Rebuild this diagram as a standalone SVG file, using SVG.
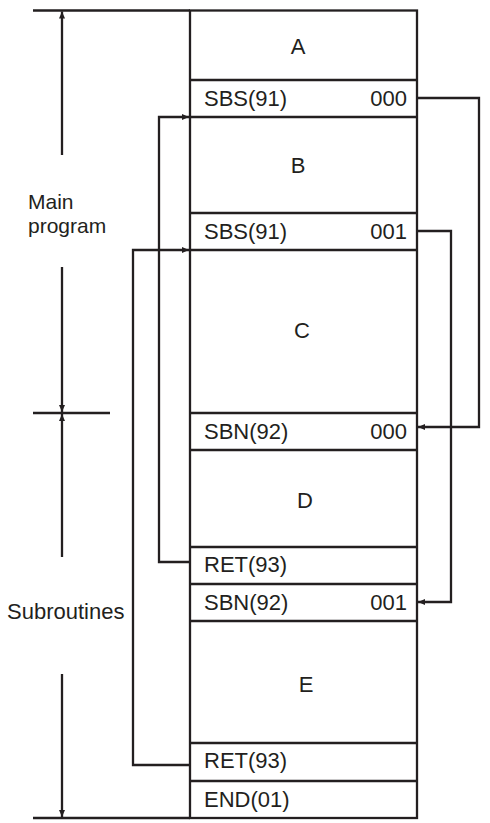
<svg xmlns="http://www.w3.org/2000/svg" width="490" height="823" viewBox="0 0 490 823">
<style>
.ln{fill:none;stroke:#231f20;stroke-width:2.3}
.t{font-family:"Liberation Sans",Arial,sans-serif;font-size:22px;fill:#231f20}
.s{font-size:21px}
.c{text-anchor:middle}
.e{text-anchor:end}
</style>
<defs>
<marker id="ah" markerUnits="userSpaceOnUse" markerWidth="8" markerHeight="8" viewBox="0 0 8 8" refX="7" refY="4" orient="auto">
<path d="M0,1 L7,4 L0,7 Z" fill="#231f20"/>
</marker>
</defs>
<rect width="490" height="823" fill="#fff"/>
<g id="dimensions">
<path class="ln" d="M33,10.5 H190 M33,818 H190 M33,413 H110"/>
<path class="ln" d="M62,155 V11.5" marker-end="url(#ah)"/>
<path class="ln" d="M62,267 V412" marker-end="url(#ah)"/>
<path class="ln" d="M62,557 V414" marker-end="url(#ah)"/>
<path class="ln" d="M62,674 V817" marker-end="url(#ah)"/>
<text class="t s" x="28" y="209">Main</text>
<text class="t s" x="28" y="233">program</text>
<text class="t" x="7" y="619">Subroutines</text>
</g>
<g id="program">
<rect class="ln" x="190" y="10.5" width="227" height="807.5"/>
<g id="A"><text class="t c" x="298" y="54">A</text></g>
<g id="SBS000"><path class="ln" d="M190,80 H417 M190,117 H417"/><text class="t" x="204" y="106">SBS(91)</text><text class="t e" x="407" y="106">000</text></g>
<g id="B"><text class="t c" x="298" y="173">B</text></g>
<g id="SBS001"><path class="ln" d="M190,213 H417 M190,250 H417"/><text class="t" x="204" y="239">SBS(91)</text><text class="t e" x="407" y="239">001</text></g>
<g id="C"><text class="t c" x="302" y="338">C</text></g>
<g id="SBN000"><path class="ln" d="M190,413 H417 M190,450 H417"/><text class="t" x="204" y="439">SBN(92)</text><text class="t e" x="407" y="439">000</text></g>
<g id="D"><text class="t c" x="305" y="508">D</text></g>
<g id="RET1"><path class="ln" d="M190,547 H417 M190,584 H417"/><text class="t" x="204" y="572">RET(93)</text></g>
<g id="SBN001"><path class="ln" d="M190,621 H417"/><text class="t" x="204" y="610">SBN(92)</text><text class="t e" x="407" y="610">001</text></g>
<g id="E"><text class="t c" x="306" y="692">E</text></g>
<g id="RET2"><path class="ln" d="M190,743 H417 M190,781 H417"/><text class="t" x="204" y="768">RET(93)</text></g>
<g id="END"><text class="t" x="204" y="807">END(01)</text></g>
</g>
<g id="connectors">
<path class="ln" d="M417,98 H479 V427 H418" marker-end="url(#ah)"/>
<path class="ln" d="M417,231 H451 V602 H418" marker-end="url(#ah)"/>
<path class="ln" d="M190,562 H159 V117 H189" marker-end="url(#ah)"/>
<path class="ln" d="M190,765 H133 V250 H189" marker-end="url(#ah)"/>
</g>
</svg>
